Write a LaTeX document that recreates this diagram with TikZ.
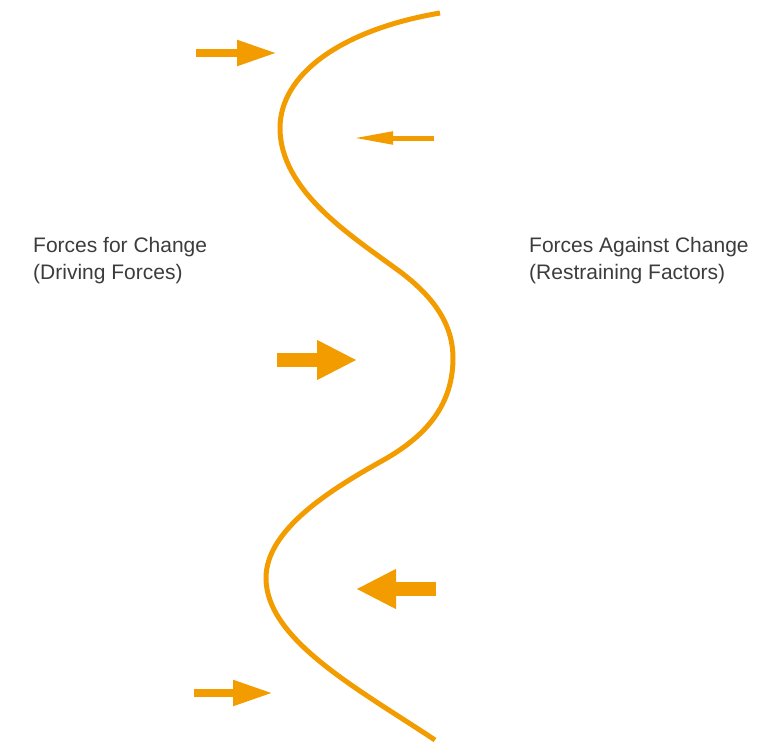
\documentclass[tikz,border=0pt]{standalone}
\usepackage{fontspec}
\setmainfont{Liberation Sans}
\usetikzlibrary{arrows.meta}
\definecolor{forceorange}{RGB}{242,156,0}
\definecolor{labelgray}{RGB}{60,60,60}

\begin{document}
\begin{tikzpicture}[x=1pt,y=-1pt,
  bigforce/.style={forceorange,line width=14pt,-{Triangle[length=40pt,width=37pt]}},
  midforce/.style={forceorange,line width=8pt,-{Triangle[length=40pt,width=24pt]}},
  smallforce/.style={forceorange,line width=5pt,-{Triangle[length=40pt,width=12pt]}},
  forcelabel/.style={labelgray,anchor=north west,align=left,inner sep=0pt,
    font=\fontsize{21}{27}\selectfont}]
\useasboundingbox (0,0) rectangle (769,742);
% kurve
\draw[forceorange,line width=5pt]
  (440,13) .. controls (340,30) and (280,75) .. (280,128)
           .. controls (280,190) and (350,235) .. (395,268)
           .. controls (440,300) and (453,330) .. (453,358)
           .. controls (453,410) and (420,440) .. (380,462)
           .. controls (330,490) and (266,530) .. (266,578)
           .. controls (266,640) and (360,690) .. (435,740);
% pfeile
\coordinate (d1s) at (196,53);  \coordinate (d1e) at (277,53);
\coordinate (r1s) at (434,138); \coordinate (r1e) at (353,138);
\coordinate (d2s) at (277,360); \coordinate (d2e) at (357,360);
\coordinate (r2s) at (436,589); \coordinate (r2e) at (356,589);
\coordinate (d3s) at (194,693); \coordinate (d3e) at (273,693);
\draw[midforce] (d1s) -- (d1e);
\draw[smallforce] (r1s) -- (r1e);
\draw[bigforce] (d2s) -- (d2e);
\draw[bigforce] (r2s) -- (r2e);
\draw[midforce] (d3s) -- (d3e);
% texte
\node[forcelabel] (driving) at (33,237) {Forces for Change\\(Driving Forces)};
\node[forcelabel] (restraining) at (529,237) {Forces Against Change\\(Restraining Factors)};
\end{tikzpicture}
\end{document}
